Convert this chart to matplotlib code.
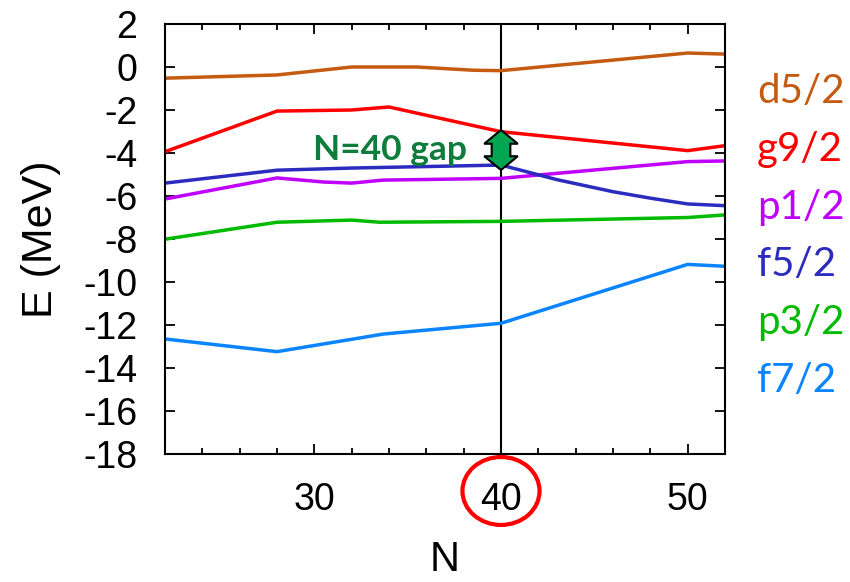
import numpy as np
import matplotlib
matplotlib.use('Agg')
import matplotlib.pyplot as plt
from matplotlib.patches import Ellipse, Polygon
import matplotlib.transforms as mtransforms

plt.rcParams['axes.unicode_minus'] = False

# single-particle levels vs neutron number N
d52_n = [22, 28, 32, 35.5, 38.5, 40, 50, 52]
d52_e = [-0.52, -0.37, 0.0, 0.0, -0.15, -0.17, 0.65, 0.6]

g92_n = [22, 28, 32, 34, 40, 50, 52]
g92_e = [-3.94, -2.05, -2.0, -1.86, -3.01, -3.89, -3.66]

p12_n = [22, 28, 30.5, 32, 33.7, 38.5, 40, 50, 52]
p12_e = [-6.14, -5.16, -5.35, -5.4, -5.26, -5.2, -5.18, -4.4, -4.37]

f52_n = [22, 28, 32, 40, 43, 46, 48, 50, 52]
f52_e = [-5.4, -4.8, -4.7, -4.56, -5.24, -5.8, -6.1, -6.37, -6.45]

p32_n = [22, 28, 32, 33.5, 40, 50, 52]
p32_e = [-8.01, -7.22, -7.12, -7.22, -7.18, -7.0, -6.88]

f72_n = [22, 28, 33.7, 40, 50, 52]
f72_e = [-12.65, -13.24, -12.42, -11.92, -9.18, -9.27]

labels = ['d5/2', 'g9/2', 'p1/2', 'f5/2', 'p3/2', 'f7/2']
colors = ['#C55A11', '#FF0000', '#BF00FF', '#2B2BBF', '#00BB00', '#0A84FF']

gap_n = 40
gap_top = -2.93
gap_bottom = -4.79

fig = plt.figure(figsize=(8.5, 5.82), dpi=100)
ax = fig.add_axes([165/850, 1-454/582, 560/850, 430/582])

series = [(d52_n, d52_e), (g92_n, g92_e), (p12_n, p12_e),
          (f52_n, f52_e), (p32_n, p32_e), (f72_n, f72_e)]
for (n, e), c in zip(series, colors):
    ax.plot(n, e, color=c, lw=2.5, solid_joinstyle='round')

ax.axvline(gap_n, color='black', lw=1.5, zorder=1)

ax.set_xlim(22, 52)
ax.set_ylim(-18, 2)
ax.set_xticks([30, 40, 50])
ax.set_xticks(np.arange(24, 52, 2), minor=True)
ax.set_yticks(np.arange(-18, 3, 2))
ax.tick_params(axis='both', which='both', direction='in', top=True, right=True,
               labelsize=27, width=1.3)
ax.tick_params(axis='both', which='major', length=7)
ax.tick_params(axis='both', which='minor', length=4)
ax.tick_params(axis='x', pad=20)
ax.tick_params(axis='y', pad=20)
for lab in ax.get_xticklabels() + ax.get_yticklabels():
    lab.set_family('Liberation Sans')
for s in ax.spines.values():
    s.set_linewidth(1.5)

ax.set_xlabel('N', fontsize=30, family='Liberation Sans', labelpad=16)
ax.set_ylabel('E (MeV)', fontsize=31, family='Liberation Sans', labelpad=16)

# double-headed gap arrow
hw, sw, hl = 0.9, 0.5, 0.64
verts = [
    (gap_n, gap_top),
    (gap_n + hw, gap_top - hl),
    (gap_n + sw, gap_top - hl),
    (gap_n + sw, gap_bottom + hl),
    (gap_n + hw, gap_bottom + hl),
    (gap_n, gap_bottom),
    (gap_n - hw, gap_bottom + hl),
    (gap_n - sw, gap_bottom + hl),
    (gap_n - sw, gap_top - hl),
    (gap_n - hw, gap_top - hl),
]
ax.add_patch(Polygon(verts, closed=True, facecolor='#00A651', edgecolor='black',
                     lw=1.5, zorder=5))
ax.text(gap_n - 1.8, (gap_top + gap_bottom) / 2, 'N=40 gap', color='#0E7C3A',
        fontsize=25.5, fontweight='bold', family='Lato', ha='right', va='center')

# circle around the N=40 tick label
trans = mtransforms.blended_transform_factory(ax.transData, ax.transAxes)
ax.add_patch(Ellipse((gap_n, -0.086), 4.13, 0.158, transform=trans, fill=False,
                     edgecolor='#FF0000', lw=3, clip_on=False))

# level labels on the right
for i, (lab, c) in enumerate(zip(labels, colors)):
    fig.text(757/850, 1 - (103 + i * 57.8)/582, lab, color=c, fontsize=29,
             family='Lato', ha='left', va='baseline')

fig.savefig('out.png', dpi=100)
